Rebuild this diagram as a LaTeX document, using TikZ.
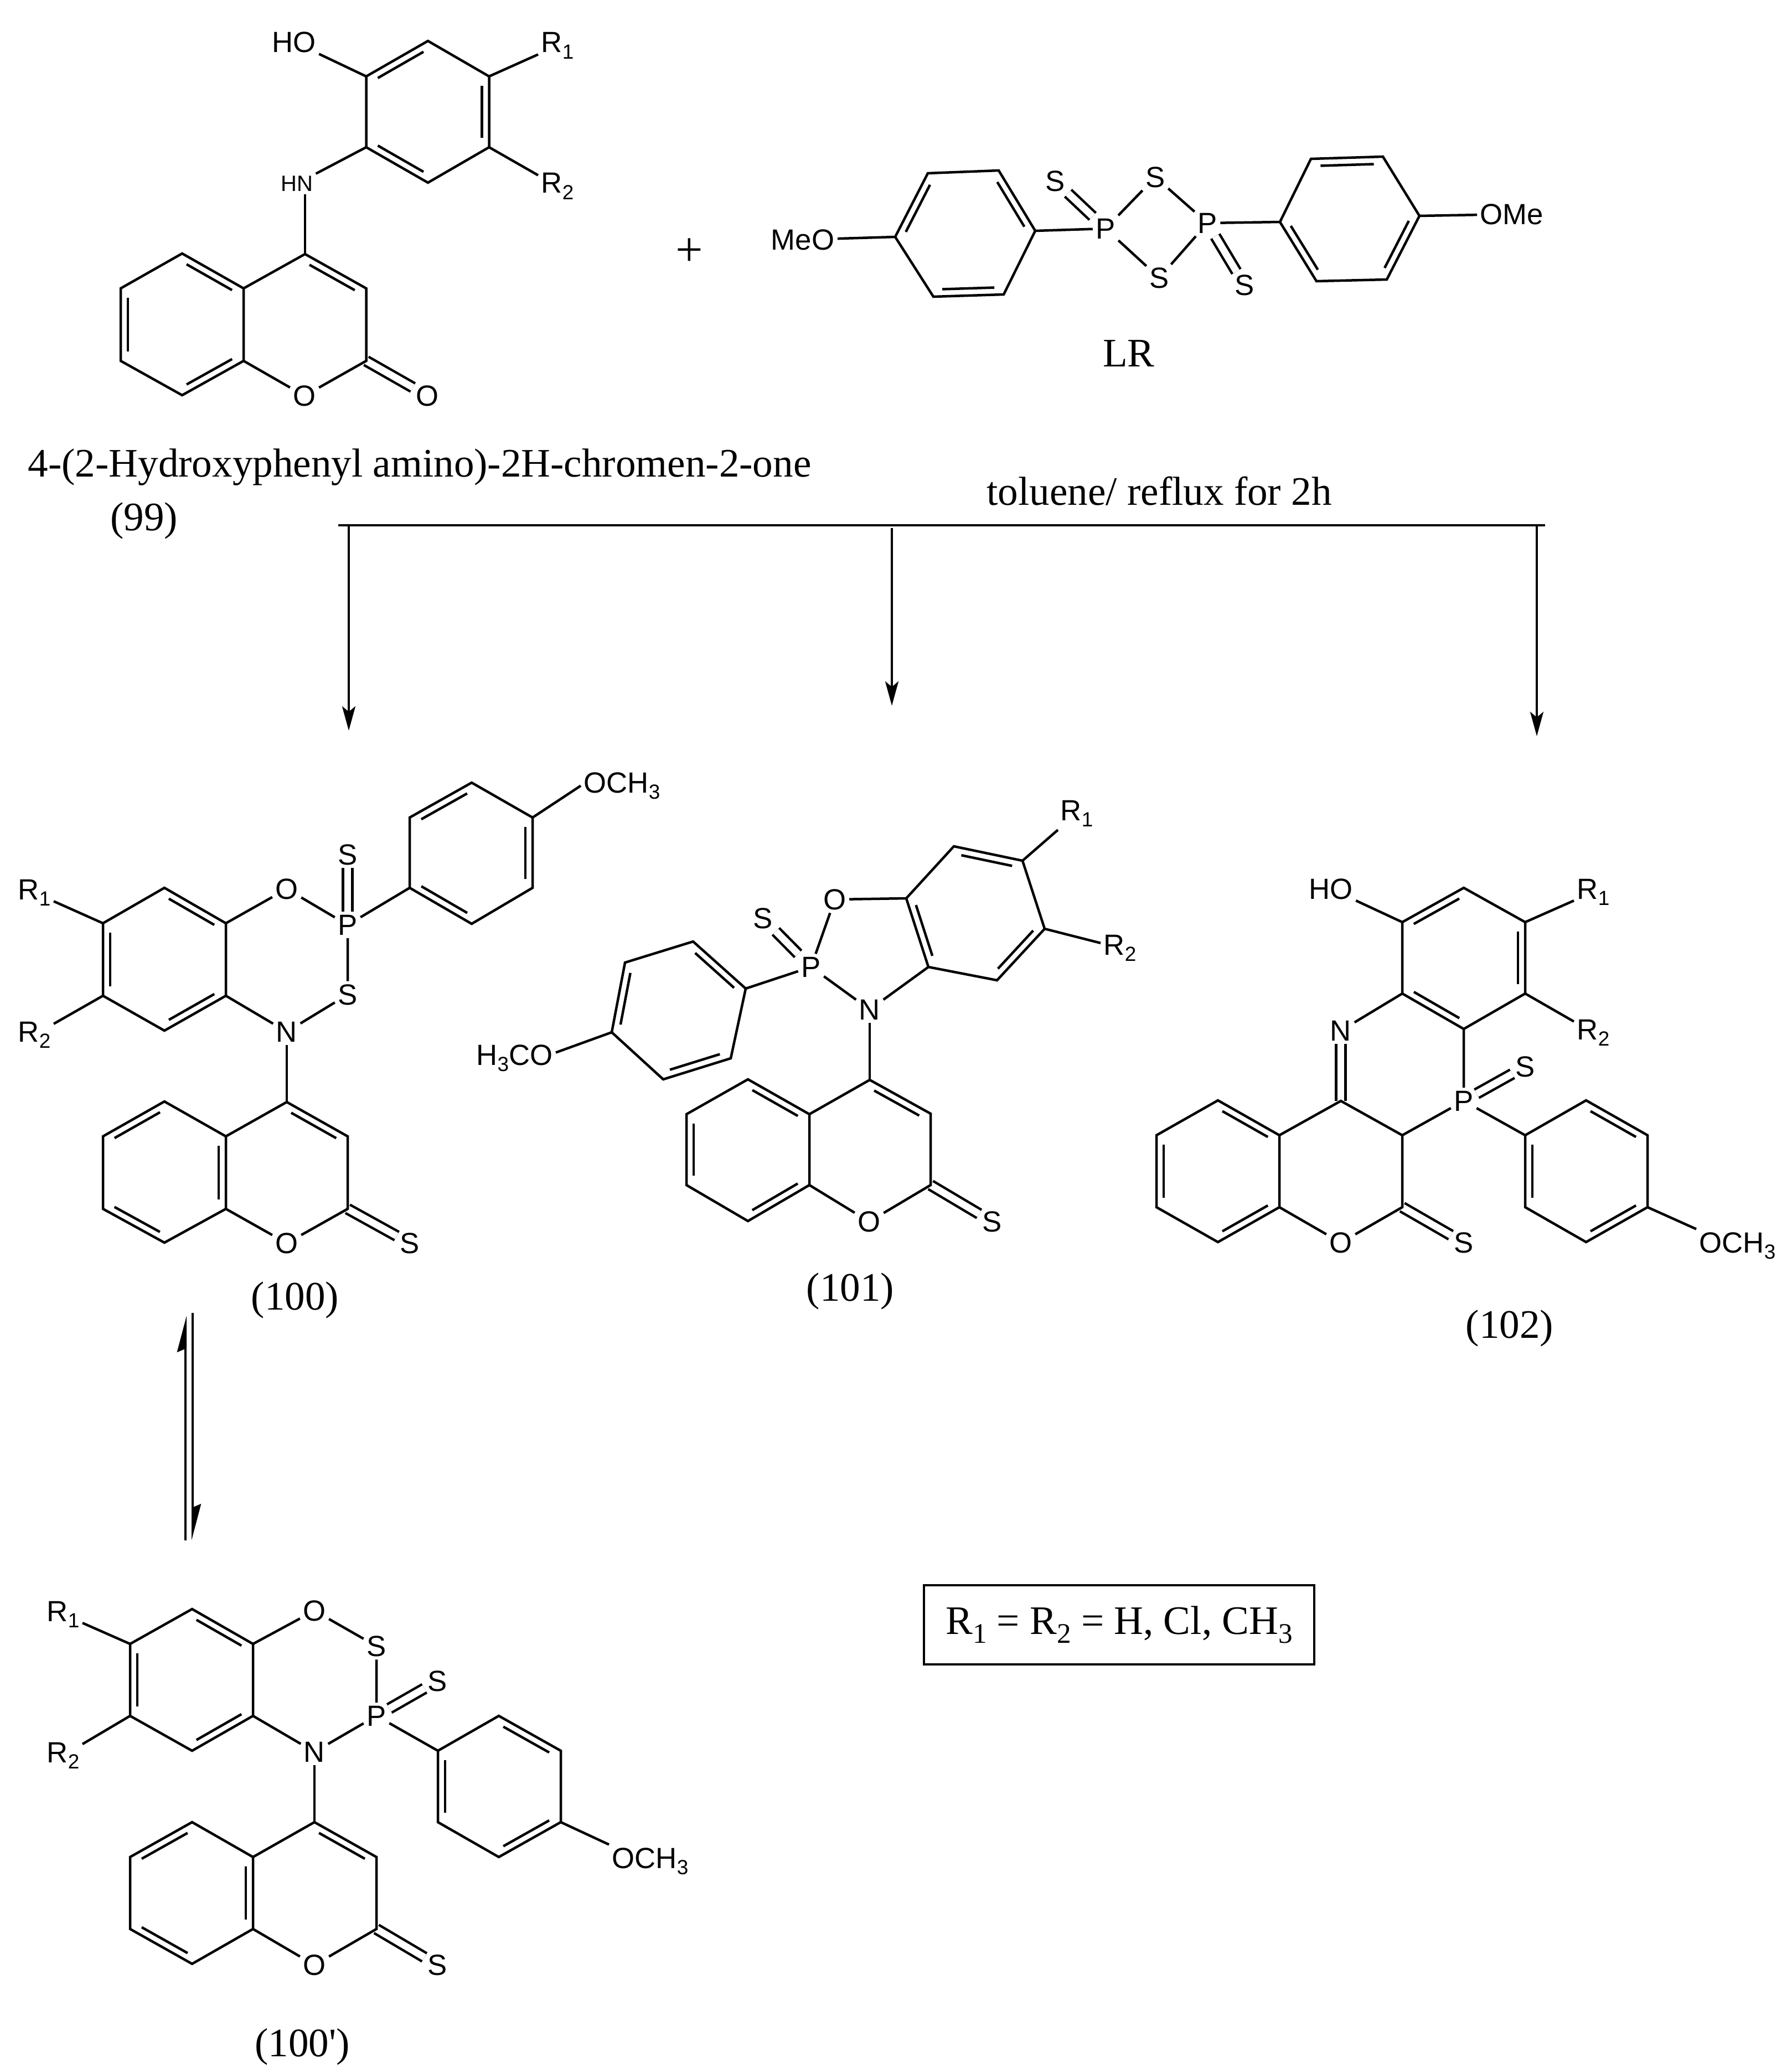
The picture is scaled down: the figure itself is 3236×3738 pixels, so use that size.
\documentclass[tikz,border=0pt]{standalone}
\usepackage{fontspec}
\usepackage{graphicx}
\setmainfont{Liberation Serif}
\setsansfont{Liberation Sans}
\usetikzlibrary{calc,arrows.meta}

\newcommand{\inbond}[2]{\draw[bond] ($(#1)!.13!(#2)!1.3mm!90:(#2)$) -- ($(#2)!.13!(#1)!1.3mm!-90:(#1)$);}
\newcommand{\atomsub}[1]{\raisebox{-.22em}{\scalebox{.7}{#1}}}

\begin{document}
\begin{tikzpicture}[x=.1mm,y=-.1mm]
\tikzset{bond/.style={line width=.45mm,line join=miter},
            dbond/.style={double,double distance=1.25mm,line width=.45mm},
            atom/.style={font=\sffamily\fontsize{15}{17}\selectfont,inner sep=.5mm},
            smallatom/.style={font=\sffamily\fontsize{11.4}{13}\selectfont,inner sep=.5mm},
            caption/.style={font=\fontsize{20.8}{24}\selectfont,inner sep=0pt},
            rxnarrow/.style={line width=.4mm,-{Stealth[length=4.4mm,width=2.4mm,inset=1mm]}},
            eqarrow/.style={line width=.4mm,-{Stealth[harpoon,length=5.8mm,width=3mm,inset=.6mm]}}}
\useasboundingbox (0,0) rectangle (3236,3738);

% 99
\begin{scope}[name prefix=hc-]
\coordinate (a1) at (773,74); \coordinate (a2) at (661.5,138); \coordinate (a3) at (661.5,266);
\coordinate (a4) at (773,330); \coordinate (a5) at (883.5,266); \coordinate (a6) at (883.5,138);
\coordinate (b1) at (329,458); \coordinate (b2) at (218,521); \coordinate (b3) at (218,652);
\coordinate (b4) at (329,714); \coordinate (b5) at (440,652); \coordinate (b6) at (440,521);
\coordinate (c4) at (551,459); \coordinate (c3) at (661.5,521); \coordinate (c2) at (661.5,652);
\node[atom] (ho) at (531,76) {HO};
\node[smallatom] (hn) at (536,332) {HN};
\node[atom,anchor=base west] (rone) at (972,95) {R\atomsub{1}};
\node[atom,anchor=base west] (rtwo) at (972,349) {R\atomsub{2}};
\node[atom] (o1) at (550,715) {O};
\node[atom] (o2) at (772,715) {O};
\draw[dbond] (c2) -- (o2);
\draw[bond] (a1) -- (a2) -- (a3) -- (a4) -- (a5) -- (a6) -- cycle;
\draw[bond] (b1) -- (b2) -- (b3) -- (b4) -- (b5) -- (b6) -- cycle;
\draw[bond] (b6) -- (c4) -- (c3) -- (c2) -- (o1) -- (b5);
\draw[bond] (ho) -- (a2);
\draw[bond] (hn) -- (a3);
\draw[bond] (c4) -- (c4 |- hn.south);
\draw[bond] (a6) -- (rone);
\draw[bond] (a5) -- (rtwo);
\inbond{a1}{a2} \inbond{a3}{a4} \inbond{a5}{a6}
\inbond{b6}{b1} \inbond{b2}{b3} \inbond{b4}{b5} \inbond{c3}{c4}
\node[caption] (title) at (758,844) {4-(2-Hydroxyphenyl amino)-2H-chromen-2-one};
\node[caption] (num) at (260,941) {(99)};
\end{scope}

\node[font=\fontsize{25}{28}\selectfont,inner sep=0pt] (plus) at (1245,456) {+};

% LR
\begin{scope}[name prefix=lr-]
\coordinate (a1) at (1676,313); \coordinate (a2) at (1617,428); \coordinate (a3) at (1686,536);
\coordinate (a4) at (1813,532); \coordinate (a5) at (1870,417); \coordinate (a6) at (1804,308);
\coordinate (d1) at (2368,287); \coordinate (d2) at (2312,401); \coordinate (d3) at (2378,508);
\coordinate (d4) at (2505,505); \coordinate (d5) at (2564,390); \coordinate (d6) at (2498,283);
\node[atom] (meo) at (1450,433) {MeO};
\node[atom] (ome) at (2731,387) {OMe};
\node[atom] (pa) at (1997,413) {P};
\node[atom] (pb) at (2181,403) {P};
\node[atom] (sa) at (1906,327) {S};
\node[atom] (sb) at (2087,320) {S};
\node[atom] (sc) at (2094,502) {S};
\node[atom] (sd) at (2248,515) {S};
\draw[dbond] (pa) -- (sa);
\draw[dbond] (pb) -- (sd);
\draw[bond] (a1) -- (a2) -- (a3) -- (a4) -- (a5) -- (a6) -- cycle;
\draw[bond] (d1) -- (d2) -- (d3) -- (d4) -- (d5) -- (d6) -- cycle;
\draw[bond] (meo) -- (a2);
\draw[bond] (a5) -- (pa);
\draw[bond] (pa) -- (sb) -- (pb) -- (sc) -- (pa);
\draw[bond] (pb) -- (d2);
\draw[bond] (d5) -- (ome);
\inbond{a1}{a2} \inbond{a3}{a4} \inbond{a5}{a6}
\inbond{d2}{d3} \inbond{d4}{d5} \inbond{d6}{d1}
\node[caption] (num) at (2039,639) {LR};
\end{scope}

% branch
\node[caption] (cond) at (2094,887) {toluene/ reflux for 2h};
\coordinate (bl) at (611,949); \coordinate (br) at (2791,949);
\coordinate (ua) at (630,949); \coordinate (va) at (630,1320);
\coordinate (ub) at (1611,954); \coordinate (vb) at (1611,1275);
\coordinate (uc) at (2776,949); \coordinate (vc) at (2776,1330);
\draw[bond] (bl) -- (br);
\draw[rxnarrow] (ua) -- (va);
\draw[rxnarrow] (ub) -- (vb);
\draw[rxnarrow] (uc) -- (vc);

% 100
\begin{scope}[name prefix=tc-]
\coordinate (a1) at (297,1604); \coordinate (a2) at (186,1668); \coordinate (a3) at (186,1799);
\coordinate (a4) at (297,1862); \coordinate (a5) at (408,1799); \coordinate (a6) at (408,1668);
\coordinate (d1) at (852,1414); \coordinate (d2) at (740,1477); \coordinate (d3) at (740,1604);
\coordinate (d4) at (852,1669); \coordinate (d5) at (962,1604); \coordinate (d6) at (962,1477);
\coordinate (b1) at (297,1990); \coordinate (b2) at (186,2053); \coordinate (b3) at (186,2184);
\coordinate (b4) at (297,2245); \coordinate (b5) at (408,2184); \coordinate (b6) at (408,2053);
\coordinate (c4) at (518,1991); \coordinate (c3) at (628,2053); \coordinate (c2) at (628,2184);
\node[atom,anchor=base west] (rone) at (27,1625) {R\atomsub{1}};
\node[atom,anchor=base west] (rtwo) at (27,1882) {R\atomsub{2}};
\node[atom] (o1) at (518,1606) {O};
\node[atom] (p) at (628,1671) {P};
\node[atom] (sa) at (628,1544) {S};
\node[atom] (sb) at (628,1797) {S};
\node[atom] (n) at (518,1864) {N};
\node[atom,anchor=base west] (och) at (1049,1432) {OCH\atomsub{3}};
\node[atom] (o2) at (518,2246) {O};
\node[atom] (sc) at (740,2246) {S};
\draw[dbond] (p) -- (sa);
\draw[dbond] (c2) -- (sc);
\draw[bond] (a1) -- (a2) -- (a3) -- (a4) -- (a5) -- (a6) -- cycle;
\draw[bond] (d1) -- (d2) -- (d3) -- (d4) -- (d5) -- (d6) -- cycle;
\draw[bond] (b1) -- (b2) -- (b3) -- (b4) -- (b5) -- (b6) -- cycle;
\draw[bond] (b6) -- (c4) -- (c3) -- (c2) -- (o2) -- (b5);
\draw[bond] (a6) -- (o1) -- (p) -- (sb) -- (n) -- (a5);
\draw[bond] (p) -- (d3);
\draw[bond] (n) -- (c4);
\draw[bond] (d6) -- (och.west);
\draw[bond] (a2) -- (rone);
\draw[bond] (a3) -- (rtwo);
\inbond{a6}{a1} \inbond{a2}{a3} \inbond{a4}{a5}
\inbond{d1}{d2} \inbond{d3}{d4} \inbond{d5}{d6}
\inbond{b1}{b2} \inbond{b3}{b4} \inbond{b5}{b6} \inbond{c3}{c4}
\node[caption] (num) at (533,2349) {(100)};
\end{scope}

% 101
\begin{scope}[name prefix=pc-]
\coordinate (a1) at (1723,1529); \coordinate (a2) at (1637,1623); \coordinate (a3) at (1677,1747);
\coordinate (a4) at (1801,1771); \coordinate (a5) at (1887,1678); \coordinate (a6) at (1847,1555);
\coordinate (d1) at (1252,1701); \coordinate (d2) at (1129,1739); \coordinate (d3) at (1105,1865);
\coordinate (d4) at (1198,1950); \coordinate (d5) at (1320,1912); \coordinate (d6) at (1347,1786);
\coordinate (b1) at (1351,1950); \coordinate (b2) at (1240,2013); \coordinate (b3) at (1240,2141);
\coordinate (b4) at (1351,2206); \coordinate (b5) at (1462,2141); \coordinate (b6) at (1462,2013);
\coordinate (c4) at (1571,1951); \coordinate (c3) at (1681,2012); \coordinate (c2) at (1681,2141);
\node[atom,anchor=base west] (rone) at (1910,1482) {R\atomsub{1}};
\node[atom,anchor=base west] (rtwo) at (1988,1725) {R\atomsub{2}};
\node[atom] (o1) at (1508,1625) {O};
\node[atom] (p) at (1465,1747) {P};
\node[atom] (sa) at (1378,1659) {S};
\node[atom] (n) at (1571,1824) {N};
\node[atom,anchor=base east] (och) at (1004,1924) {H\atomsub{3}CO};
\node[atom] (o2) at (1570,2207) {O};
\node[atom] (sc) at (1792,2207) {S};
\draw[dbond] (p) -- (sa);
\draw[dbond] (c2) -- (sc);
\draw[bond] (a1) -- (a2) -- (a3) -- (a4) -- (a5) -- (a6) -- cycle;
\draw[bond] (d1) -- (d2) -- (d3) -- (d4) -- (d5) -- (d6) -- cycle;
\draw[bond] (b1) -- (b2) -- (b3) -- (b4) -- (b5) -- (b6) -- cycle;
\draw[bond] (b6) -- (c4) -- (c3) -- (c2) -- (o2) -- (b5);
\draw[bond] (a2) -- (o1) -- (p) -- (n) -- (a3);
\draw[bond] (p) -- (d6);
\draw[bond] (n) -- (c4);
\draw[bond] (d3) -- ([yshift=1mm]och.east);
\draw[bond] (a6) -- (rone);
\draw[bond] (a5) -- (rtwo);
\inbond{a2}{a3} \inbond{a4}{a5} \inbond{a6}{a1}
\inbond{d6}{d1} \inbond{d2}{d3} \inbond{d4}{d5}
\inbond{b6}{b1} \inbond{b2}{b3} \inbond{b4}{b5} \inbond{c3}{c4}
\node[caption] (num) at (1536,2333) {(101)};
\end{scope}

% 102
\begin{scope}[name prefix=fc-]
\coordinate (a1) at (2644,1604); \coordinate (a2) at (2533,1666); \coordinate (a3) at (2533,1795);
\coordinate (a4) at (2644,1859); \coordinate (a5) at (2755,1795); \coordinate (a6) at (2755,1666);
\coordinate (d1) at (2865,1988); \coordinate (d2) at (2755,2051); \coordinate (d3) at (2755,2181);
\coordinate (d4) at (2865,2244); \coordinate (d5) at (2976,2181); \coordinate (d6) at (2976,2051);
\coordinate (b1) at (2200,1988); \coordinate (b2) at (2089,2051); \coordinate (b3) at (2089,2181);
\coordinate (b4) at (2200,2244); \coordinate (b5) at (2311,2181); \coordinate (b6) at (2311,2051);
\coordinate (cn) at (2422,1989); \coordinate (ch) at (2533,2051); \coordinate (c2) at (2533,2181);
\node[atom] (ho) at (2404,1606) {HO};
\node[atom,anchor=base west] (rone) at (2843,1624) {R\atomsub{1}};
\node[atom,anchor=base west] (rtwo) at (2843,1878) {R\atomsub{2}};
\node[atom] (n) at (2422,1862) {N};
\node[atom] (p) at (2644,1989) {P};
\node[atom] (sa) at (2755,1927) {S};
\node[atom] (o2) at (2422,2245) {O};
\node[atom] (sc) at (2644,2245) {S};
\node[atom,anchor=base west] (och) at (3064,2263) {OCH\atomsub{3}};
\draw[dbond] (p) -- (sa);
\draw[dbond] (c2) -- (sc);
\draw[dbond] (cn) -- (n);
\draw[bond] (a1) -- (a2) -- (a3) -- (a4) -- (a5) -- (a6) -- cycle;
\draw[bond] (d1) -- (d2) -- (d3) -- (d4) -- (d5) -- (d6) -- cycle;
\draw[bond] (b1) -- (b2) -- (b3) -- (b4) -- (b5) -- (b6) -- cycle;
\draw[bond] (b6) -- (cn) -- (ch) -- (c2) -- (o2) -- (b5);
\draw[bond] (ch) -- (p) -- (a4);
\draw[bond] (a3) -- (n);
\draw[bond] (p) -- (d2);
\draw[bond] (ho) -- (a2);
\draw[bond] (a6) -- (rone);
\draw[bond] (a5) -- (rtwo);
\draw[bond] (d5) -- (och.north west);
\inbond{a1}{a2} \inbond{a3}{a4} \inbond{a5}{a6}
\inbond{d2}{d3} \inbond{d4}{d5} \inbond{d6}{d1}
\inbond{b6}{b1} \inbond{b2}{b3} \inbond{b4}{b5}
\node[caption] (num) at (2727,2400) {(102)};
\end{scope}

% equilibrium
\coordinate (ea) at (335,2783); \coordinate (eb) at (335,2377);
\coordinate (ec) at (348,2372); \coordinate (ed) at (348,2783);
\draw[eqarrow] (ea) -- (eb);
\draw[eqarrow] (ec) -- (ed);

% 100'
\begin{scope}[name prefix=sc-]
\coordinate (a1) at (347,2907); \coordinate (a2) at (235,2970); \coordinate (a3) at (235,3100);
\coordinate (a4) at (347,3163); \coordinate (a5) at (457,3100); \coordinate (a6) at (457,2970);
\coordinate (d1) at (901,3100); \coordinate (d2) at (791,3163); \coordinate (d3) at (791,3292);
\coordinate (d4) at (901,3355); \coordinate (d5) at (1013,3292); \coordinate (d6) at (1013,3163);
\coordinate (b1) at (347,3292); \coordinate (b2) at (235,3355); \coordinate (b3) at (235,3485);
\coordinate (b4) at (347,3548); \coordinate (b5) at (457,3485); \coordinate (b6) at (457,3355);
\coordinate (c4) at (568,3292); \coordinate (c3) at (680,3355); \coordinate (c2) at (680,3485);
\node[atom,anchor=base west] (rone) at (79,2929) {R\atomsub{1}};
\node[atom,anchor=base west] (rtwo) at (79,3184) {R\atomsub{2}};
\node[atom] (o1) at (568,2910) {O};
\node[atom] (sb) at (680,2974) {S};
\node[atom] (p) at (680,3100) {P};
\node[atom] (sa) at (790,3037) {S};
\node[atom] (n) at (568,3165) {N};
\node[atom,anchor=base west] (och) at (1100,3375) {OCH\atomsub{3}};
\node[atom] (o2) at (568,3550) {O};
\node[atom] (sc) at (790,3550) {S};
\draw[dbond] (p) -- (sa);
\draw[dbond] (c2) -- (sc);
\draw[bond] (a1) -- (a2) -- (a3) -- (a4) -- (a5) -- (a6) -- cycle;
\draw[bond] (d1) -- (d2) -- (d3) -- (d4) -- (d5) -- (d6) -- cycle;
\draw[bond] (b1) -- (b2) -- (b3) -- (b4) -- (b5) -- (b6) -- cycle;
\draw[bond] (b6) -- (c4) -- (c3) -- (c2) -- (o2) -- (b5);
\draw[bond] (a6) -- (o1) -- (sb) -- (p) -- (n) -- (a5);
\draw[bond] (p) -- (d2);
\draw[bond] (n) -- (c4);
\draw[bond] (d5) -- (och.north west);
\draw[bond] (a2) -- (rone);
\draw[bond] (a3) -- (rtwo);
\inbond{a6}{a1} \inbond{a2}{a3} \inbond{a4}{a5}
\inbond{d2}{d3} \inbond{d4}{d5} \inbond{d6}{d1}
\inbond{b1}{b2} \inbond{b3}{b4} \inbond{b5}{b6} \inbond{c3}{c4}
\node[caption] (num) at (546,3698) {(100\textquotesingle)};
\end{scope}

\node[caption,draw,line width=.4mm,minimum width=70.5mm,minimum height=14.3mm] (rbox) at (2021.5,2935.5) {R\atomsub{1} = R\atomsub{2} = H, Cl, CH\atomsub{3}};

\end{tikzpicture}
\end{document}
